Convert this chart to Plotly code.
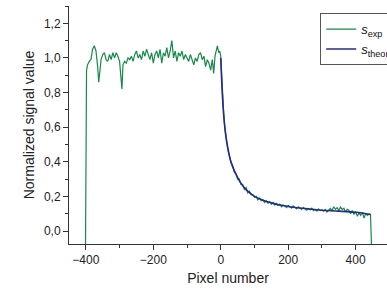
import plotly.graph_objects as go

# Experimental signal (pixel, normalized value)
x_exp = [-401, -398, -395, -390, -385, -380, -375, -370, -365, -362, -358, -355, -350, -345,
         -340, -335, -330, -325, -320, -315, -310, -305, -300, -296, -293, -290, -285, -280,
         -275, -270, -265, -260, -255, -250, -245, -240, -235, -230, -225, -220, -215, -210,
         -205, -200, -195, -190, -185, -180, -175, -170, -165, -160, -155, -150, -145, -140,
         -135, -130, -125, -120, -115, -110, -105, -100, -95, -90, -85, -80, -75, -70, -65,
         -60, -55, -50, -45, -40, -35, -30, -25, -21, -17, -13, -10, -6, -3, 0,
         3, 6, 9, 12, 15, 18, 21, 25, 30, 35, 40, 45, 50, 55, 60, 65, 70, 75, 80, 85, 90, 95,
         100, 105, 110, 115, 120, 125, 130, 135, 140, 145, 150, 155, 160, 165, 170, 175, 180,
         185, 190, 195, 200, 205, 210, 215, 220, 225, 230, 235, 240, 245, 250, 255, 260, 265,
         270, 275, 280, 285, 290, 295, 300, 305, 310, 315, 320, 325, 330, 335, 340, 345, 350,
         355, 360, 365, 370, 375, 380, 385, 390, 395, 400, 405, 410, 415, 420, 425, 430, 435,
         440, 444, 447]
y_exp = [-0.08, 0.93, 0.96, 0.98, 0.99, 1.05, 1.07, 1.04, 0.95, 0.86, 0.93, 0.99, 1.02, 1.03,
         0.99, 0.98, 1.02, 0.99, 1.03, 1.00, 1.03, 1.01, 0.98, 0.90, 0.82, 0.96, 0.98, 0.97,
         1.00, 0.99, 1.01, 0.98, 1.02, 1.04, 1.00, 1.02, 0.99, 1.04, 1.01, 1.05, 1.02, 0.99,
         1.03, 0.97, 1.02, 1.04, 1.00, 1.05, 0.97, 1.03, 1.01, 1.06, 1.00, 1.04, 1.10, 1.00,
         1.04, 0.98, 1.03, 1.01, 1.04, 0.99, 1.02, 1.00, 0.98, 1.02, 0.99, 0.96, 1.00, 0.98, 1.02,
         1.03, 0.99, 1.01, 0.95, 0.99, 0.97, 0.93, 0.99, 0.91, 1.01, 1.05, 1.07, 1.03, 1.04, 1.01,
         0.86, 0.74, 0.67, 0.60, 0.55, 0.51, 0.47, 0.44, 0.40, 0.38, 0.34, 0.33, 0.30, 0.30, 0.27,
         0.27, 0.24, 0.25, 0.22, 0.23, 0.21, 0.21,
         0.195, 0.20, 0.18, 0.19, 0.175, 0.18, 0.165, 0.175, 0.16, 0.17, 0.155, 0.165, 0.15, 0.16,
         0.148, 0.155, 0.14, 0.15, 0.145, 0.135, 0.148, 0.14, 0.132, 0.145, 0.135, 0.128, 0.14,
         0.13, 0.125, 0.135, 0.128, 0.12, 0.13, 0.122, 0.132, 0.118, 0.125, 0.115, 0.128, 0.118,
         0.122, 0.115, 0.125, 0.11, 0.12, 0.13, 0.118, 0.14, 0.125, 0.135, 0.12, 0.138, 0.125,
         0.132, 0.11, 0.125, 0.12, 0.10, 0.118, 0.095, 0.112, 0.085, 0.105, 0.09, 0.108, 0.075,
         0.102, 0.09, 0.098, 0.095, -0.08]

# Theoretical curve
x_theor = [0, 5, 10, 15, 20, 30, 40, 50, 60, 70, 80, 100, 125, 150, 175, 200, 250, 300,
           350, 400, 445]
y_theor = [1.0, 0.78, 0.64, 0.55, 0.49, 0.40, 0.35, 0.31, 0.275, 0.25, 0.23, 0.20, 0.178,
           0.163, 0.150, 0.142, 0.13, 0.12, 0.115, 0.108, 0.095]

x_ticks = [-400, -200, 0, 200, 400]
y_ticks = [0.0, 0.2, 0.4, 0.6, 0.8, 1.0, 1.2]

fig = go.Figure()
fig.add_trace(go.Scatter(x=x_exp, y=y_exp, mode="lines", name="<i>s</i><sub>exp</sub>",
                         line=dict(color="#17894a", width=1.2)))
fig.add_trace(go.Scatter(x=x_theor, y=y_theor, mode="lines", name="<i>s</i><sub>theor</sub>",
                         line=dict(color="#262b86", width=1.6, shape="spline")))

axis_common = dict(showgrid=False, zeroline=False, showline=True, linecolor="#333",
                   linewidth=1, ticks="outside", ticklen=5, tickcolor="#333",
                   tickfont=dict(family="Liberation Sans, Arial", size=12, color="#222"))

fig.update_layout(
    width=387, height=294,
    margin=dict(l=69, r=0, t=6, b=50, autoexpand=False),
    paper_bgcolor="white", plot_bgcolor="white",
    separators=",.",
    showlegend=True,
    legend=dict(x=0.79, y=0.97, xanchor="left", yanchor="top",
                bgcolor="white", bordercolor="#555", borderwidth=1,
                font=dict(family="Liberation Sans, Arial", size=13, color="#111"),
                tracegroupgap=0, itemwidth=30),
    xaxis=dict(range=[-450, 493], tickvals=x_ticks,
               minor=dict(dtick=100, tick0=0, ticks="outside", ticklen=3, tickcolor="#333"),
               title=dict(text="Pixel number", standoff=6,
                          font=dict(family="Liberation Sans, Arial", size=14, color="#222")),
               **axis_common),
    yaxis=dict(range=[-0.075, 1.30], tickvals=y_ticks, tickformat=".1f",
               minor=dict(dtick=0.1, tick0=0, ticks="outside", ticklen=3, tickcolor="#333"),
               title=dict(text="Normalized signal value", standoff=6,
                          font=dict(family="Liberation Sans, Arial", size=14, color="#222")),
               **axis_common),
)

fig.write_html("out.html", config={"displayModeBar": False},
               post_script="document.body.style.margin='0';document.body.style.overflow='hidden';")
